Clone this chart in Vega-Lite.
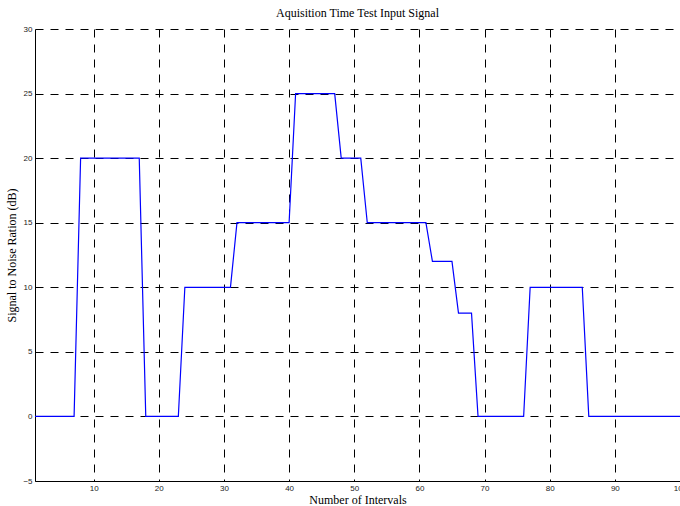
{
  "$schema": "https://vega.github.io/schema/vega-lite/v6.json",
  "autosize": {"type": "none"},
  "width": 645,
  "height": 452,
  "padding": {"left": 35, "top": 29, "right": 0, "bottom": 25},
  "background": "white",
  "title": {"text": "Aquisition Time Test Input Signal", "font": "Liberation Serif", "fontSize": 12, "fontWeight": "normal", "color": "black", "offset": 5},
  "config": {"view": {"stroke": null}},
  "data": {"values": [
    {"x":1,"y":0},{"x":2,"y":0},{"x":3,"y":0},{"x":4,"y":0},{"x":5,"y":0},{"x":6,"y":0},{"x":7,"y":0},
    {"x":8,"y":20},{"x":9,"y":20},{"x":10,"y":20},{"x":11,"y":20},{"x":12,"y":20},{"x":13,"y":20},{"x":14,"y":20},{"x":15,"y":20},{"x":16,"y":20},{"x":17,"y":20},
    {"x":18,"y":0},{"x":19,"y":0},{"x":20,"y":0},{"x":21,"y":0},{"x":22,"y":0},{"x":23,"y":0},
    {"x":24,"y":10},{"x":25,"y":10},{"x":26,"y":10},{"x":27,"y":10},{"x":28,"y":10},{"x":29,"y":10},{"x":30,"y":10},{"x":31,"y":10},
    {"x":32,"y":15},{"x":33,"y":15},{"x":34,"y":15},{"x":35,"y":15},{"x":36,"y":15},{"x":37,"y":15},{"x":38,"y":15},{"x":39,"y":15},{"x":40,"y":15},
    {"x":41,"y":25},{"x":42,"y":25},{"x":43,"y":25},{"x":44,"y":25},{"x":45,"y":25},{"x":46,"y":25},{"x":47,"y":25},
    {"x":48,"y":20},{"x":49,"y":20},{"x":50,"y":20},{"x":51,"y":20},
    {"x":52,"y":15},{"x":53,"y":15},{"x":54,"y":15},{"x":55,"y":15},{"x":56,"y":15},{"x":57,"y":15},{"x":58,"y":15},{"x":59,"y":15},{"x":60,"y":15},{"x":61,"y":15},
    {"x":62,"y":12},{"x":63,"y":12},{"x":64,"y":12},{"x":65,"y":12},
    {"x":66,"y":8},{"x":67,"y":8},{"x":68,"y":8},
    {"x":69,"y":0},{"x":70,"y":0},{"x":71,"y":0},{"x":72,"y":0},{"x":73,"y":0},{"x":74,"y":0},{"x":75,"y":0},{"x":76,"y":0},
    {"x":77,"y":10},{"x":78,"y":10},{"x":79,"y":10},{"x":80,"y":10},{"x":81,"y":10},{"x":82,"y":10},{"x":83,"y":10},{"x":84,"y":10},{"x":85,"y":10},
    {"x":86,"y":0},{"x":87,"y":0},{"x":88,"y":0},{"x":89,"y":0},{"x":90,"y":0},{"x":91,"y":0},{"x":92,"y":0},{"x":93,"y":0},{"x":94,"y":0},{"x":95,"y":0},{"x":96,"y":0},{"x":97,"y":0},{"x":98,"y":0},{"x":99,"y":0},{"x":100,"y":0}
  ]},
  "mark": {"type": "line", "color": "#0000ff", "strokeWidth": 1.2, "clip": true},
  "encoding": {
    "x": {"field": "x", "type": "quantitative",
      "scale": {"domain": [1, 100], "nice": false, "zero": false},
      "axis": {"values": [10,20,30,40,50,60,70,80,90,100], "title": "Number of Intervals", "zindex": 0,
        "titleFont": "Liberation Serif", "titleFontSize": 12, "titleFontWeight": "normal", "titleColor": "black", "titlePadding": 2,
        "labelFont": "Liberation Sans", "labelFontSize": 8, "labelColor": "#222", "labelPadding": 3, "labelFlush": false, "labelOverlap": false,
        "ticks": false, "domainColor": "black", "domainWidth": 1,
        "grid": true, "gridColor": "black", "gridDash": [8, 7], "gridWidth": 1, "gridOpacity": 1}},
    "y": {"field": "y", "type": "quantitative",
      "scale": {"domain": [-5, 30], "nice": false, "zero": false},
      "axis": {"values": [-5,0,5,10,15,20,25,30], "title": "Signal to Noise Ration (dB)", "zindex": 0,
        "titleFont": "Liberation Serif", "titleFontSize": 12, "titleFontWeight": "normal", "titleColor": "black", "titlePadding": 4,
        "labelFont": "Liberation Sans", "labelFontSize": 8, "labelColor": "#222", "labelPadding": 3, "labelFlush": false,
        "ticks": false, "domainColor": "black", "domainWidth": 1,
        "grid": true, "gridColor": "black", "gridDash": [8, 7], "gridWidth": 1, "gridOpacity": 1}}
  }
}
